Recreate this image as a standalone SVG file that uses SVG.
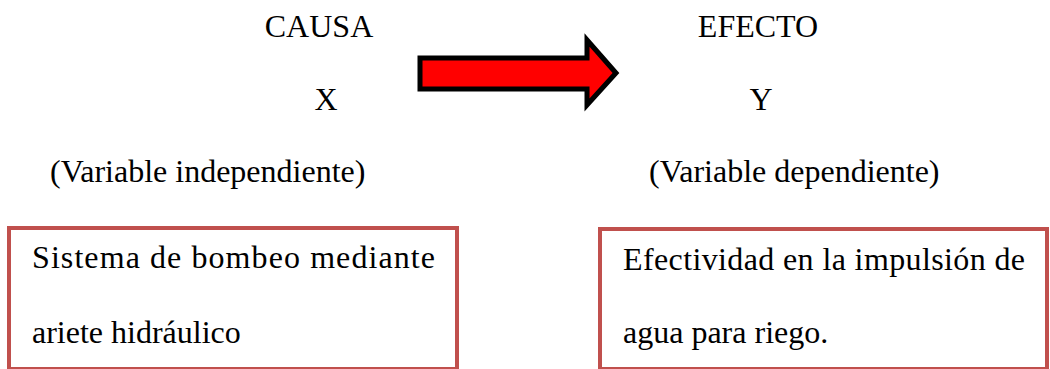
<svg xmlns="http://www.w3.org/2000/svg" width="1050" height="369" viewBox="0 0 1050 369">
<style>
text{font-family:"Liberation Serif","Times New Roman",serif;font-size:32px;fill:#000}
.box{fill:#fff;stroke:#C0504D;stroke-width:4}
</style>
<rect width="1050" height="369" fill="#fff"/>
<g id="causa">
<text x="319" y="37" text-anchor="middle">CAUSA</text>
<text x="326" y="110" text-anchor="middle">X</text>
<text x="50" y="182">(Variable independiente)</text>
</g>
<g id="efecto">
<text x="758" y="37" text-anchor="middle">EFECTO</text>
<text x="761" y="110" text-anchor="middle">Y</text>
<text x="649" y="182">(Variable dependiente)</text>
</g>
<g id="connectors">
<path d="M420,58 L587,58 L587,40 L616,73 L587,105 L587,89 L420,89 Z" fill="#FF0000" stroke="#000" stroke-width="5" stroke-linejoin="miter"/>
</g>
<g id="box-x">
<rect class="box" x="9" y="228" width="448" height="141"/>
<text x="32" y="268" textLength="403" lengthAdjust="spacing">Sistema de bombeo mediante</text>
<text x="32" y="343">ariete hidráulico</text>
</g>
<g id="box-y">
<rect class="box" x="600" y="229" width="447" height="140"/>
<text x="623" y="270" textLength="402" lengthAdjust="spacing">Efectividad en la impulsión de</text>
<text x="623" y="343">agua para riego.</text>
</g>
</svg>
